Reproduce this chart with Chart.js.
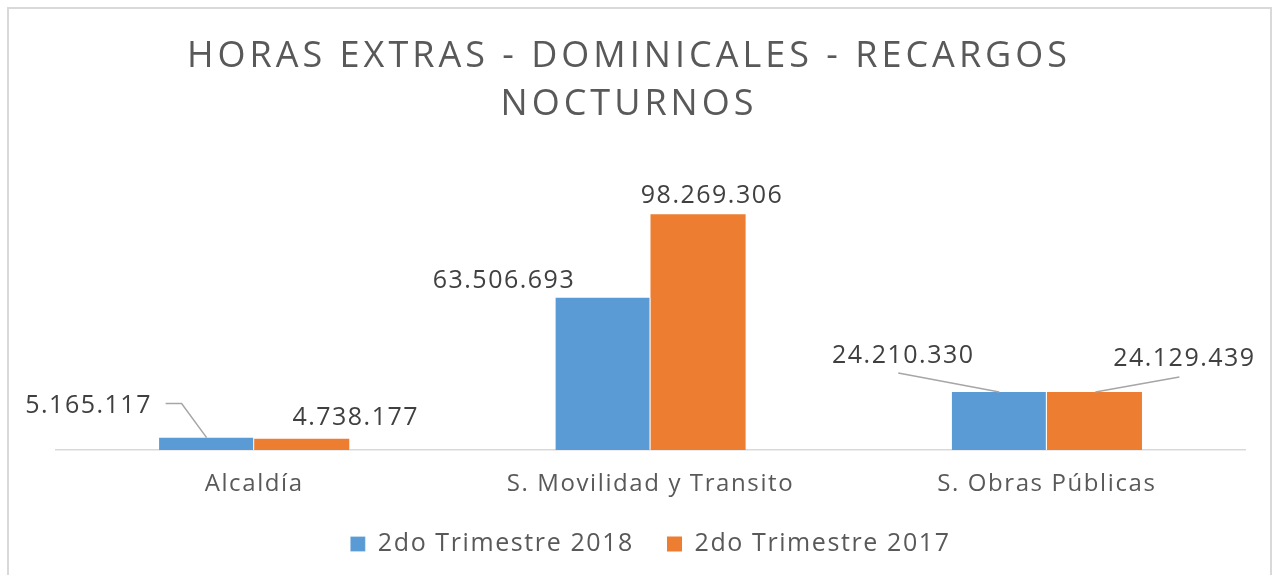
<!DOCTYPE html>
<html lang="es">
<head>
  <meta charset="UTF-8">
  <title>Horas extras - dominicales - recargos nocturnos</title>
  <style>
    html, body {
      margin: 0;
      padding: 0;
      background: #fff;
      overflow: hidden;
    }
    .frame {
      position: absolute;
      left: 7px;
      top: 7px;
      width: 1261px;
      height: 620px;
      border: 2px solid #d9d9d9;
    }
    .wrap {
      position: absolute;
      left: 0;
      top: 0;
      width: 1272px;
      height: 575px;
    }
  </style>
</head>
<body>
  <div class="frame"></div>
  <div class="wrap"><canvas id="chart" width="1272" height="575"></canvas></div>

  <script src="https://cdn.jsdelivr.net/npm/chart.js"></script>
  <script>
    const titleLines = ['HORAS EXTRAS - DOMINICALES - RECARGOS', 'NOCTURNOS'];
    const categories = ['Alcaldía', 'S. Movilidad y Transito', 'S. Obras Públicas'];
    const series2018 = [5165117, 63506693, 24210330];
    const series2017 = [4738177, 98269306, 24129439];
    const seriesNames = ['2do Trimestre 2018', '2do Trimestre 2017'];

    const fmt = v => v.toString().replace(/\B(?=(\d{3})+(?!\d))/g, '.');
    const FONT = "'Open Sans', sans-serif";

    // label placement relative to the top centre of each bar (px), plus optional leader lines
    const labelSpots = [
      [{ dx: -118, dy: -32, leader: [[-41, -34], [-25, -34], [0, 0]] },
       { dx: -99, dy: -17 },
       { dx: -96, dy: -36, leader: [[-101, -19], [0, 0]] }],
      [{ dx: 54, dy: -21 },
       { dx: 14, dy: -18 },
       { dx: 90, dy: -33, leader: [[85, -15], [1, 0]] }]
    ];

    // the Excel text is drawn a bit spread out
    const spacing = {
      id: 'spacing',
      beforeLayout(chart) { chart.ctx.letterSpacing = '1.6px'; },
      beforeDraw(chart) { chart.ctx.letterSpacing = '1.6px'; }
    };

    // title sits a little left of the plot centre, as in the sheet
    const sheetTitle = {
      id: 'sheetTitle',
      afterDraw(chart) {
        const ctx = chart.ctx;
        ctx.save();
        ctx.letterSpacing = '4px';
        ctx.fillStyle = '#595959';
        ctx.font = '36px ' + FONT;
        ctx.textAlign = 'center';
        ctx.textBaseline = 'middle';
        titleLines.forEach((t, i) => ctx.fillText(t, 629, 57 + i * 48));
        ctx.restore();
      }
    };

    const valueLabels = {
      id: 'valueLabels',
      afterDatasetsDraw(chart) {
        const ctx = chart.ctx;
        ctx.save();
        ctx.letterSpacing = '1.5px';
        chart.data.datasets.forEach((ds, di) => {
          chart.getDatasetMeta(di).data.forEach((bar, i) => {
            const spot = labelSpots[di][i];
            if (spot.leader) {
              ctx.strokeStyle = '#a6a6a6';
              ctx.lineWidth = 1.5;
              ctx.beginPath();
              spot.leader.forEach((p, k) => {
                const px = bar.x + p[0], py = bar.y + p[1];
                if (k === 0) ctx.moveTo(px, py); else ctx.lineTo(px, py);
              });
              ctx.stroke();
            }
            ctx.fillStyle = '#404040';
            ctx.font = '25px ' + FONT;
            ctx.textAlign = 'center';
            ctx.textBaseline = 'middle';
            ctx.fillText(fmt(ds.data[i]), bar.x + spot.dx, bar.y + spot.dy);
          });
        });
        ctx.restore();
      }
    };

    new Chart(document.getElementById('chart').getContext('2d'), {
      type: 'bar',
      data: {
        labels: categories,
        datasets: [
          { label: seriesNames[0], data: series2018, backgroundColor: '#5b9bd5', borderColor: '#ffffff', borderWidth: { right: 1 } },
          { label: seriesNames[1], data: series2017, backgroundColor: '#ed7d31', borderColor: '#ffffff', borderWidth: 0 }
        ]
      },
      options: {
        responsive: false,
        animation: false,
        layout: { padding: { left: 56, right: 27, top: 162, bottom: 8.5 } },
        datasets: { bar: { categoryPercentage: 0.48, barPercentage: 1 } },
        plugins: {
          title: { display: false },
          legend: {
            position: 'bottom',
            labels: {
              color: '#595959',
              font: { family: FONT, size: 25 },
              boxWidth: 15,
              boxHeight: 15,
              padding: 33
            }
          },
          tooltip: { enabled: false }
        },
        scales: {
          x: {
            // tick length (not padding) pushes the labels down; padding is counted twice in the fit
            grid: { display: false, tickLength: 19.7 },
            border: { display: true, color: '#d9d9d9', width: 1.5 },
            ticks: { color: '#595959', font: { family: FONT, size: 24 }, padding: 0 }
          },
          y: {
            display: false,
            min: 0,
            max: 120000000
          }
        }
      },
      plugins: [spacing, sheetTitle, valueLabels]
    });
  </script>
</body>
</html>
